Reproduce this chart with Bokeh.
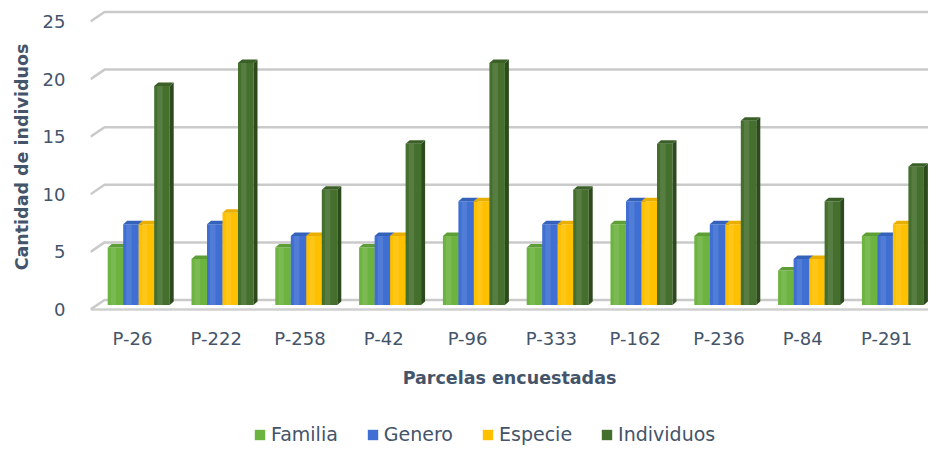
from bokeh.plotting import figure
from bokeh.layouts import column
from bokeh.models import FactorRange, Range1d, FixedTicker, Legend, LegendItem
from bokeh.embed import file_html
from bokeh.resources import INLINE

# ---------------- data ----------------
parcelas = ["P-26", "P-222", "P-258", "P-42", "P-96", "P-333", "P-162", "P-236", "P-84", "P-291"]
familia = [5, 4, 5, 5, 6, 5, 7, 6, 3, 6]
genero = [7, 7, 6, 6, 9, 7, 9, 7, 4, 6]
especie = [7, 8, 6, 6, 9, 7, 9, 7, 4, 7]
individuos = [19, 21, 10, 14, 21, 10, 14, 16, 9, 12]
series_names = ["Familia", "Genero", "Especie", "Individuos"]
y_ticks = [0, 5, 10, 15, 20, 25]

# ---------------- styling / geometry ----------------
front_colors = ["#6CB33F", "#3F6FD3", "#FFC000", "#446F2D"]
side_colors = ["#4C8A2A", "#2A509E", "#D49E00", "#2C4A1C"]
top_colors = ["#5E9E36", "#3461BA", "#E8AE00", "#3A5F27"]
TXT = "#44546A"
FONT = "DejaVu Sans"

W, H = 928, 420
LEG_H = 26
BL, BR, BT = 90, 0, 0
Y0 = 309                   # frame px (from top) of the front-plane zero
FRAME_BOTTOM = 313
BB = H - FRAME_BOTTOM
frame_w = W - BL - BR
frame_h = H - BT - BB
n = len(parcelas)
PXC = frame_w / n          # px per category
PXU = 11.52                # px per y unit
y_start = -(frame_h - Y0) / PXU
y_end = Y0 / PXU


def ux(px):
    return px / PXC


def uy(px):
    return px / PXU


back_dx, back_dy = ux(14), uy(9.5)
bar_dx, bar_dy = ux(6.3), uy(4.5)
dep_dx, dep_dy = ux(4), uy(3.5)
bw = ux(15.5)

p = figure(width=W, height=H, x_range=FactorRange(factors=parcelas),
           y_range=Range1d(y_start, y_end), output_backend="svg",
           toolbar_location=None, min_border_left=BL, min_border_right=BR,
           min_border_top=BT, min_border_bottom=BB)
p.outline_line_color = None
p.xgrid.visible = False
p.ygrid.visible = False

# floor
floor_x = [0, n, n + back_dx, back_dx]
floor_y = [0, 0, back_dy, back_dy]
p.patch(floor_x, floor_y, fill_color="#FFFFFF", line_color=None)
p.line([0, n + back_dx], [0, 0], line_color="#D0D0D0", line_width=2.5)

# back-wall grid lines (including floor back edge and left slant)
gx, gy = [], []
for t in y_ticks:
    gx.append([0, back_dx, n + back_dx])
    gy.append([t, t + back_dy, t + back_dy])
p.multi_line(gx, gy, line_color="#CACACA", line_width=2.5)

# bars
all_series = [familia, genero, especie, individuos]
for k, vals in enumerate(all_series):
    left, right, bottom, top = [], [], [], []
    sxs, sys_, txs, tys = [], [], [], []
    for i, v in enumerate(vals):
        xl = i + 0.5 + bar_dx + (k - 2) * bw
        xr = xl + bw
        yb = bar_dy
        yt = v + bar_dy
        left.append(xl); right.append(xr); bottom.append(yb); top.append(yt)
        sxs.append([xr, xr + dep_dx, xr + dep_dx, xr])
        sys_.append([yb, yb + dep_dy, yt + dep_dy, yt])
        txs.append([xl, xr, xr + dep_dx, xl + dep_dx])
        tys.append([yt, yt, yt + dep_dy, yt + dep_dy])
    p.quad(left=left, right=right, bottom=bottom, top=top,
           fill_color=front_colors[k], line_color=None)
    # subtle highlight stripe on the front face
    p.quad(left=[l + bw * 0.2 for l in left], right=[l + bw * 0.55 for l in left],
           bottom=bottom, top=top, fill_color="#FFFFFF", fill_alpha=0.10, line_color=None)
    p.patches(sxs, sys_, fill_color=side_colors[k], line_color=None)
    p.patches(txs, tys, fill_color=top_colors[k], line_color=None)

# axes
p.yaxis.ticker = FixedTicker(ticks=y_ticks)
for ax in (p.xaxis[0], p.yaxis[0]):
    ax.axis_line_color = None
    ax.major_tick_line_color = None
    ax.minor_tick_line_color = None
    ax.major_tick_out = 0
    ax.major_tick_in = 0
    ax.major_label_text_font = FONT
    ax.major_label_text_font_size = "18px"
    ax.major_label_text_color = TXT
    ax.axis_label_text_font = FONT
    ax.axis_label_text_font_size = "17.5px"
    ax.axis_label_text_font_style = "bold"
    ax.axis_label_text_color = TXT

p.xaxis.axis_label = "Parcelas encuestadas"
p.xaxis.major_label_standoff = 14
p.xaxis.axis_label_standoff = 16
p.yaxis.axis_label = "Cantidad de individuos"
p.yaxis.major_label_standoff = 25
p.yaxis.axis_label_standoff = 8

# legend strip (separate figure below the chart)
pl = figure(width=W, height=LEG_H, x_range=Range1d(0, 1), y_range=Range1d(0, 1),
            output_backend="svg", toolbar_location=None, x_axis_type=None,
            y_axis_type=None, min_border=0)
pl.outline_line_color = None
pl.xgrid.visible = False
pl.ygrid.visible = False
legend_items = []
for k, name in enumerate(series_names):
    # zero-size swatch renderer: only used to style the legend entry
    r = pl.quad(left=[0], right=[0], bottom=[0], top=[0],
                fill_color=front_colors[k], line_color=None)
    legend_items.append(LegendItem(label=name, renderers=[r]))
legend = Legend(items=legend_items, orientation="horizontal",
                location=(163, 1),
                border_line_color=None, background_fill_alpha=0,
                padding=0, margin=0, spacing=28, label_standoff=5,
                glyph_width=13, glyph_height=13,
                label_text_font=FONT, label_text_font_size="19px",
                label_text_color=TXT)
pl.add_layout(legend)

layout = column(p, pl, spacing=0)
open("out.html", "w").write(file_html(layout, INLINE))
